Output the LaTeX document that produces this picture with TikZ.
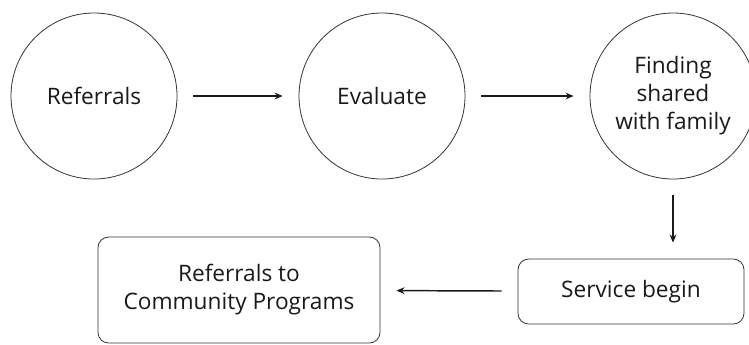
\documentclass[tikz,border=0pt]{standalone}
\usepackage{fontspec}
\setmainfont{Open Sans}
\usepackage{tikz}
\usetikzlibrary{arrows.meta, positioning}

\begin{document}
\begin{tikzpicture}[
    x=0.75pt, y=-0.75pt,
    % Styles
    stage/.style={
        circle,
        draw=black!80,
        line width=0.6pt,
        minimum size=124.5pt,
        inner sep=0pt,
        align=center,
        text=black!90,
        font=\fontsize{17}{21}\selectfont
    },
    stepbox/.style={
        rectangle,
        rounded corners=8pt,
        draw=black!80,
        line width=0.6pt,
        minimum width=#1,
        align=center,
        text=black!90,
        font=\fontsize{17}{21}\selectfont
    },
    stepbox/.default=169.5pt,
    flow/.style={
        -{Stealth[length=6pt, width=5pt]},
        line width=1.1pt,
        black!90,
        shorten <=12pt,
        shorten >=12pt
    }
]

\useasboundingbox (0,0) rectangle (749,344);

% Stages (circles)
\node[stage] (referrals) at (94, 96) {Referrals};
\node[stage] (evaluate) at (382, 96) {Evaluate};
\node[stage] (finding) at (673, 96) {Finding\\shared\\with family};

% Steps (boxes)
\node[stepbox, minimum height=48.75pt] (service) at (631, 291.5) {Service begin};
\node[stepbox=211.5pt, minimum height=79.5pt] (community) at (239, 290) {Referrals to\\Community Programs};

% Flow
\draw[flow] (referrals) -- (evaluate);
\draw[flow] (evaluate) -- (finding);
\draw[flow] (finding) -- (finding |- service.north);
\draw[flow] (service) -- (community);

\end{tikzpicture}
\end{document}
